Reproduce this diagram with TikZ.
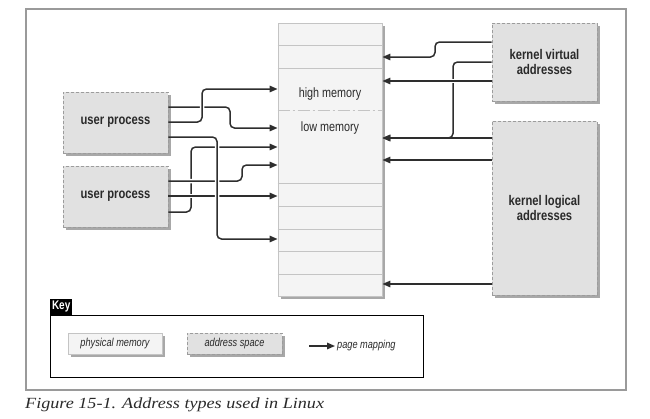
\documentclass[tikz,border=0pt]{standalone}
\usepackage{fontspec}
\setmainfont{Liberation Serif}
\newfontfamily\cond[FakeStretch=0.8]{Liberation Sans}
\newfontfamily\capfont[FakeStretch=1.17]{Liberation Serif}
\usetikzlibrary{arrows.meta,shadows}
\definecolor{framec}{HTML}{9A9A9A}
\definecolor{dashc}{HTML}{9C9C9C}
\definecolor{addrfill}{HTML}{E1E1E1}
\definecolor{physfill}{HTML}{F4F4F4}
\definecolor{physline}{HTML}{C4C4C4}
\definecolor{shadowc}{HTML}{A8A8A8}
\definecolor{linec}{HTML}{2E2E2E}
\definecolor{txt}{HTML}{2A2A2A}
\begin{document}
\begin{tikzpicture}[x=1pt,y=-1pt,
  shad/.style={drop shadow={shadow xshift=2.5pt,shadow yshift=-2.5pt,fill=shadowc,opacity=1}},
  addr/.style={shad,draw=dashc,dash pattern=on 3pt off 2pt,line width=0.9pt,fill=addrfill,
    inner sep=0pt,text=txt,align=center,font=\cond\bfseries\fontsize{14}{15}\selectfont},
  phys/.style={shad,draw=physline,line width=0.9pt,fill=physfill,inner sep=0pt,text=txt},
  rowline/.style={draw=physline,line width=1pt},
  conn/.style={draw=linec,line width=1.5pt,rounded corners=4.5pt,-{Triangle[length=8pt,width=6.5pt]}},
  over/.style={preaction={draw=white,line width=4.5pt,-,shorten <=4pt,shorten >=10pt}},
  memtext/.style={text=txt,font=\cond\fontsize{13.5}{15}\selectfont},
  keytext/.style={text=txt,font=\cond\itshape\fontsize{11.5}{13}\selectfont}]
\useasboundingbox (0,0) rectangle (650,418);
% outer frame
\draw[framec,line width=1.4pt] (26,9) rectangle (626,390);
% memory column
\node[phys,minimum width=104pt,minimum height=273pt] (mem) at (330,159.5) {};
\foreach \yy in {45,68,183,206,229,251,274}
  \draw[rowline] (mem.west |- 0,\yy) -- (mem.east |- 0,\yy);
\draw[draw=physline,line width=1pt,dash pattern=on 12pt off 3pt on 2pt off 3pt]
  (mem.west |- 0,110) -- (mem.east |- 0,110);
\node[memtext] (hm) at (330,94) {high memory};
\node[memtext] (lm) at (330,128) {low memory};
% address spaces
\node[addr,minimum width=105pt,minimum height=61pt] (up1) at (115.5,122.5) {user process};
\node[addr,minimum width=105pt,minimum height=61pt] (up2) at (115.5,196.5) {user process};
\node[addr,minimum width=105pt,minimum height=78pt] (kv) at (544.5,62) {kernel virtual\\addresses};
\node[addr,minimum width=105pt,minimum height=174pt] (kl) at (544.5,208) {kernel logical\\addresses};
% left connectors
\draw[conn] (up2.east |- 0,212) -| (191,147) -- (mem.west |- 0,147);
\draw[conn,over] (up2.east |- 0,181) -| (242,165) -- (mem.west |- 0,165);
\draw[conn,over] (up2.east |- 0,196) -- (mem.west |- 0,196);
\draw[conn,over] (up1.east |- 0,137) -| (217,239) -- (mem.west |- 0,239);
\draw[conn] (up1.east |- 0,107) -| (230,128) -- (mem.west |- 0,128);
\draw[conn,over] (up1.east |- 0,122) -| (202,89) -- (mem.west |- 0,89);
% right connectors
\draw[conn] (kv.west |- 0,42) -| (435,57) -- (mem.east |- 0,57);
\draw[conn] (kv.west |- 0,62) -| (453,138) -- (mem.east |- 0,138);
\draw[conn,over] (kv.west |- 0,81) -- (mem.east |- 0,81);
\draw[conn] (kl.west |- 0,138) -- (mem.east |- 0,138);
\draw[conn] (kl.west |- 0,160) -- (mem.east |- 0,160);
\draw[conn] (kl.west |- 0,284) -- (mem.east |- 0,284);
% key
\node[draw=black,line width=1.2pt,minimum width=373pt,minimum height=62pt,anchor=north west,inner sep=0pt] (keybox) at (50,315) {};
\node[fill=black,text=white,inner sep=0pt,minimum width=22pt,minimum height=16pt,anchor=south west,
  font=\cond\bfseries\fontsize{12.5}{13}\selectfont] (keytab) at (keybox.north west) {Key};
\node[phys,keytext,minimum width=94pt,minimum height=21pt] (kphys) at (115,343.5) {physical memory};
\node[addr,keytext,minimum width=95pt,minimum height=21pt] (kaddr) at (234.5,343.5) {address space};
\coordinate (ka) at (309,346);
\node[keytext,anchor=west,inner sep=0pt] (kmap) at (337,346) {page mapping};
\draw[conn,shorten >=2pt] (ka) -- (kmap.west);
% caption
\node[anchor=west,inner sep=0pt,text=txt,font=\capfont\itshape\fontsize{15.5}{17}\selectfont] (cap) at (25,405) {Figure 15-1. Address types used in Linux};
\end{tikzpicture}
\end{document}
